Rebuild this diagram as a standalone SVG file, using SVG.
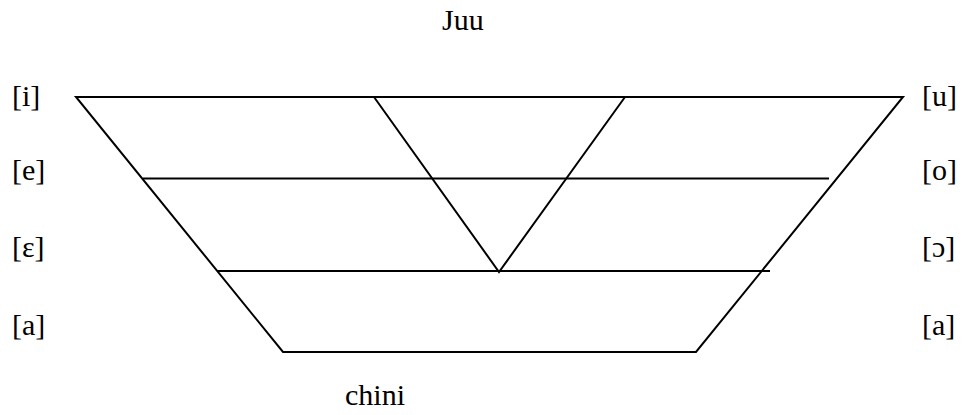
<svg xmlns="http://www.w3.org/2000/svg" width="962" height="415" viewBox="0 0 962 415">
<style>
.t{font-family:'Liberation Serif','Times New Roman','DejaVu Serif',serif;font-size:30px;fill:#000}
.l{stroke:#000;stroke-width:2;fill:none;stroke-linecap:butt;stroke-linejoin:miter}
</style>
<rect width="962" height="415" fill="#fff"/>
<g id="connectors">
<path class="l" d="M76,97 L903,97 L696,352 L283,352 Z"/>
<line class="l" x1="143" y1="178.5" x2="829" y2="178.5"/>
<line class="l" x1="217" y1="271" x2="770" y2="271"/>
<polyline class="l" points="374,97 499,272 625,97"/>
</g>
<g id="label-top"><text class="t" font-family="Liberation Serif, serif" x="442" y="30">Juu</text></g>
<g id="label-bottom"><text class="t" font-family="Liberation Serif, serif" x="345" y="405">chini</text></g>
<g id="left-labels" font-family="Liberation Serif, serif">
<text class="t" x="12" y="106">[i]</text>
<text class="t" x="12" y="180">[e]</text>
<text class="t" x="12" y="257">[ɛ]</text>
<text class="t" x="12" y="335">[a]</text>
</g>
<g id="right-labels" font-family="Liberation Serif, serif">
<text class="t" x="922" y="106">[u]</text>
<text class="t" x="922" y="180">[o]</text>
<text class="t" x="922" y="257">[ɔ]</text>
<text class="t" x="922" y="335">[a]</text>
</g>
</svg>
